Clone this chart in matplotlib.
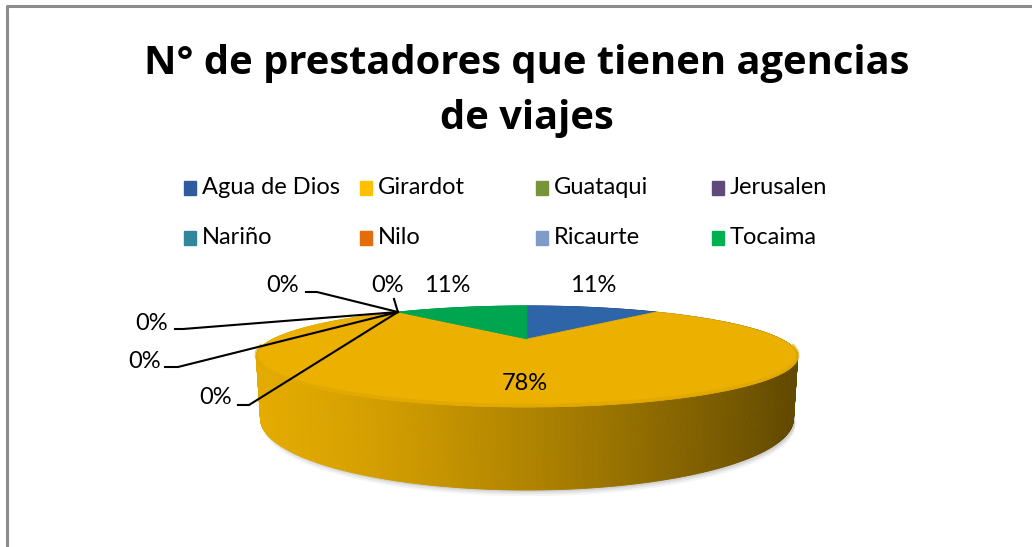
import numpy as np
import matplotlib.pyplot as plt
from matplotlib.patches import Polygon, Rectangle

# ---- data ----
municipios = ['Agua de Dios', 'Girardot', 'Guataqui', 'Jerusalen',
              'Nariño', 'Nilo', 'Ricaurte', 'Tocaima']
prestadores = [1, 7, 0, 0, 0, 0, 0, 1]
legend_colors = ['#2F5A9B', '#FFC000', '#77933C', '#604A7B',
                 '#31859C', '#E46C0A', '#7F9CC9', '#00B050']
top_colors = ['#2E64A8', '#EBB000', '#77933C', '#604A7B',
              '#31859C', '#E46C0A', '#7F9CC9', '#00A64F']
titulo = 'N° de prestadores que tienen agencias\nde viajes'

# ---- 3D pie geometry (pixels) ----
cx, cy = 527, 339
phi = np.radians(10.1)
D, F, h = 2.85, 724.0, 0.2256


def proj(theta_deg, z):
    t = np.radians(theta_deg)
    u, v = np.sin(t), np.cos(t)
    d = D + v * np.cos(phi) - z * np.sin(phi)
    X = cx + F * u / d
    Y = cy - F * (v * np.sin(phi) + z * np.cos(phi)) / d
    return X, Y


fig = plt.figure(figsize=(10.32, 5.47), dpi=100)
ax = fig.add_axes([0, 0, 1, 1])
ax.set_xlim(0, 1032)
ax.set_ylim(547, 0)
ax.axis('off')

# frame
ax.plot([7, 7, 1032], [547, 6, 6], color='#8C8C8C', lw=2.2, solid_capstyle='butt')

# title
ax.text(527, 91, titulo, ha='center', va='center', fontsize=28.7,
        fontweight='bold', family='Open Sans', linespacing=1.55)

# legend (4 columns x 2 rows)
for i, (name, col) in enumerate(zip(municipios, legend_colors)):
    r, c = divmod(i, 4)
    x0 = 184 + c * 176
    y0 = 188 + r * 50
    ax.add_patch(Rectangle((x0, y0 - 7), 12, 14, color=col))
    ax.text(x0 + 18, y0, name, ha='left', va='center', fontsize=17,
            family='Lato')

# slice angles (clockwise from back)
total = sum(prestadores)
bounds = np.concatenate([[0], np.cumsum(prestadores)]) / total * 360.0

# shadow
th = np.linspace(0, 360, 200)
bx, by = proj(th, -h)
for k, a in zip([6, 4, 2], [0.08, 0.12, 0.18]):
    ax.add_patch(Polygon(np.column_stack([bx + 2, by + k]), closed=True,
                         color='#7F7F7F', alpha=a, lw=0))


def shade(base, X):
    t = np.clip((X - 255) / (800 - 255), 0, 1)
    f = 0.97 - 0.56 * t ** 1.35
    rgb = np.array(plt.matplotlib.colors.to_rgb(base))
    return tuple(rgb * f)


# side walls, far to near
strips = []
for i, val in enumerate(prestadores):
    if val == 0:
        continue
    a0, a1 = bounds[i], bounds[i + 1]
    ts = np.linspace(a0, a1, int((a1 - a0) * 2) + 2)
    for t0, t1 in zip(ts[:-1], ts[1:]):
        depth = np.cos(np.radians((t0 + t1) / 2))
        strips.append((depth, i, t0, t1))
strips.sort(key=lambda s: -s[0])
for depth, i, t0, t1 in strips:
    x0t, y0t = proj(t0, 0)
    x1t, y1t = proj(t1, 0)
    x0b, y0b = proj(t0, -h)
    x1b, y1b = proj(t1, -h)
    col = shade(top_colors[i], (x0t + x1t) / 2)
    ax.add_patch(Polygon([(x0t, y0t), (x1t, y1t), (x1b, y1b), (x0b, y0b)],
                         closed=True, facecolor=col, edgecolor=col, lw=0.6))

# top faces
for i, val in enumerate(prestadores):
    if val == 0:
        continue
    ts = np.linspace(bounds[i], bounds[i + 1], 120)
    xs, ys = proj(ts, 0)
    pts = np.column_stack([np.r_[cx, xs], np.r_[cy, ys]])
    ax.add_patch(Polygon(pts, closed=True, facecolor=top_colors[i],
                         edgecolor=top_colors[i], lw=0.5))

# subtle bevel on the front rim
tf = np.linspace(100, 260, 100)
fx, fy = proj(tf, 0)
ax.plot(fx, fy - 1.5, color='#DCA500', lw=2.5, alpha=0.6)

# data labels
pct = [f'{v / total * 100:.0f}%' for v in prestadores]
label_pos = {0: (593, 285), 1: (525, 384), 7: (447, 285)}
for i, (x, y) in label_pos.items():
    ax.text(x, y, pct[i], ha='center', va='center', fontsize=17, family='Lato')

# zero slices with leader lines
zero_idx = [i for i, v in enumerate(prestadores) if v == 0]
zero_text = [(388, 285), (283, 286), (152, 323), (145, 361), (216, 398)]
zero_leader = [[(394, 299)], [(306, 292), (317, 292)], [(175, 329), (183, 329)],
               [(165, 367), (178, 367)], [(238, 405), (249, 405)]]
for i, (tx, ty), pts in zip(zero_idx, zero_text, zero_leader):
    axp, ayp = proj(bounds[i], 0)
    xs = [p[0] for p in pts] + [axp]
    ys = [p[1] for p in pts] + [ayp]
    ax.plot(xs, ys, color='black', lw=1.5)
    ax.text(tx, ty, pct[i], ha='center', va='center', fontsize=17, family='Lato')

fig.savefig('out.png', dpi=100)
